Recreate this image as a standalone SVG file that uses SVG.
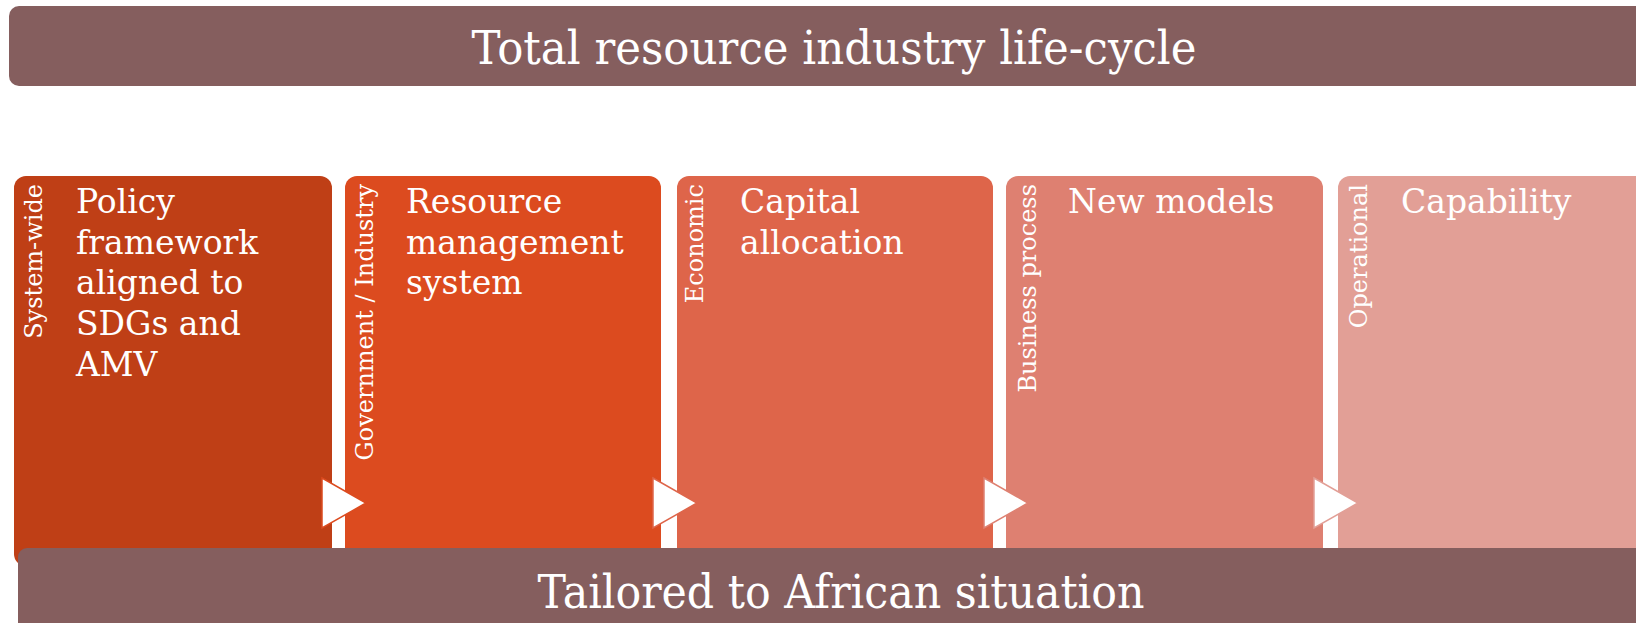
<svg xmlns="http://www.w3.org/2000/svg" width="1636" height="623" viewBox="0 0 1636 623">
  <style>
    .bar { fill: #855E5E; }
    .banner { font-family: "DejaVu Serif", "Liberation Serif", serif; font-size: 47px; fill: #FFFFFF; text-anchor: middle; }
    .head { font-family: "DejaVu Serif", "Liberation Serif", serif; font-size: 33px; fill: #FFFFFF; }
    .side { font-family: "DejaVu Serif", "Liberation Serif", serif; font-size: 24px; fill: #FFFFFF; text-anchor: end; }
    .arrow { fill: #FFFFFF; stroke-width: 1.5; stroke-linejoin: miter; }
  </style>

  <!-- header band -->
  <g id="header">
    <rect class="bar" x="9" y="6" width="1660" height="80" rx="10"/>
    <text class="banner" x="834" y="64" textLength="725" lengthAdjust="spacingAndGlyphs">Total resource industry life-cycle</text>
  </g>

  <!-- stage boxes -->
  <g id="stage-policy">
    <rect x="14" y="176" width="318" height="390" rx="12" fill="#BF3F16"/>
    <text class="side" transform="translate(42,184) rotate(-90)">System-wide</text>
    <text class="head">
      <tspan x="76" y="213">Policy</tspan>
      <tspan x="76" y="254">framework</tspan>
      <tspan x="76" y="294">aligned to</tspan>
      <tspan x="76" y="335">SDGs and</tspan>
      <tspan x="76" y="376">AMV</tspan>
    </text>
  </g>

  <g id="stage-resource">
    <rect x="345" y="176" width="316" height="390" rx="12" fill="#DC4B1F"/>
    <text class="side" transform="translate(373,184) rotate(-90)">Government / Industry</text>
    <text class="head">
      <tspan x="406" y="213">Resource</tspan>
      <tspan x="406" y="254">management</tspan>
      <tspan x="406" y="294">system</tspan>
    </text>
  </g>

  <g id="stage-capital">
    <rect x="677" y="176" width="316" height="390" rx="12" fill="#DE654A"/>
    <text class="side" transform="translate(703,184) rotate(-90)">Economic</text>
    <text class="head">
      <tspan x="740" y="213">Capital</tspan>
      <tspan x="740" y="254">allocation</tspan>
    </text>
  </g>

  <g id="stage-models">
    <rect x="1006" y="176" width="317" height="390" rx="12" fill="#DE8071"/>
    <text class="side" transform="translate(1036,184) rotate(-90)">Business process</text>
    <text class="head" x="1068" y="213">New models</text>
  </g>

  <g id="stage-capability">
    <rect x="1338" y="176" width="330" height="390" rx="12" fill="#E29F96"/>
    <text class="side" transform="translate(1367,184) rotate(-90)">Operational</text>
    <text class="head" x="1401" y="213">Capability</text>
  </g>

  <!-- flow arrows between stages -->
  <g id="connectors">
    <polygon class="arrow" points="322,478 366,503 322,528" stroke="#DC4B1F"/>
    <polygon class="arrow" points="653,478 697,503 653,528" stroke="#DE654A"/>
    <polygon class="arrow" points="984,478 1028,503 984,528" stroke="#DE8071"/>
    <polygon class="arrow" points="1314,478 1358,503 1314,528" stroke="#E29F96"/>
  </g>

  <!-- footer band -->
  <g id="footer">
    <rect class="bar" x="18" y="548" width="1660" height="100" rx="9"/>
    <text class="banner" x="841" y="608" textLength="607" lengthAdjust="spacingAndGlyphs">Tailored to African situation</text>
  </g>
</svg>
